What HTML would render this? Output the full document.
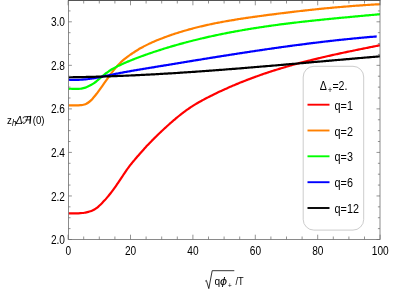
<!DOCTYPE html><html><head><meta charset="utf-8"><style>html,body{margin:0;padding:0;background:#fff}</style></head><body><svg width="395" height="291" viewBox="0 0 395 291" style="display:block;will-change:transform;font-family:'Liberation Sans',sans-serif">
<rect width="395" height="291" fill="#fff"/>
<clipPath id="c"><rect x="68.4" y="0.5" width="311.6" height="239.0"/></clipPath>
<g clip-path="url(#c)" fill="none" stroke-linejoin="round">
<path d="M68.40,213.33C68.73,213.34 69.73,213.35 70.40,213.36C71.07,213.37 71.73,213.38 72.40,213.38C73.07,213.39 73.73,213.40 74.40,213.40C75.07,213.40 75.73,213.40 76.40,213.38C77.07,213.37 77.73,213.35 78.40,213.33C79.07,213.30 79.73,213.26 80.40,213.21C81.07,213.16 81.73,213.10 82.40,213.03C83.07,212.95 83.73,212.86 84.40,212.76C85.07,212.65 85.73,212.53 86.40,212.38C87.07,212.24 87.73,212.08 88.40,211.90C89.07,211.71 89.73,211.51 90.40,211.28C91.07,211.05 91.73,210.80 92.40,210.50C93.07,210.20 93.73,209.87 94.40,209.48C95.07,209.10 95.73,208.67 96.40,208.18C97.07,207.70 97.73,207.15 98.40,206.58C99.07,206.00 99.73,205.37 100.40,204.73C101.07,204.09 101.73,203.41 102.40,202.72C103.07,202.03 103.73,201.33 104.40,200.60C105.07,199.87 105.73,199.13 106.40,198.37C107.07,197.61 107.73,196.82 108.40,196.02C109.07,195.22 109.73,194.40 110.40,193.55C111.07,192.71 111.73,191.84 112.40,190.95C113.07,190.06 113.73,189.15 114.40,188.21C115.07,187.28 115.73,186.32 116.40,185.35C117.07,184.38 117.73,183.38 118.40,182.39C119.07,181.39 119.73,180.38 120.40,179.37C121.07,178.36 121.73,177.35 122.40,176.34C123.07,175.34 123.73,174.33 124.40,173.35C125.07,172.36 125.73,171.37 126.40,170.41C127.07,169.46 127.73,168.51 128.40,167.59C129.07,166.68 129.93,165.54 130.40,164.92C130.87,164.31 131.07,164.07 131.20,163.90L131.20,163.95C131.53,163.54 132.53,162.31 133.20,161.50C133.87,160.69 134.53,159.89 135.20,159.10C135.87,158.31 136.53,157.52 137.20,156.75C137.87,155.97 138.53,155.20 139.20,154.44C139.87,153.67 140.53,152.92 141.20,152.17C141.87,151.42 142.53,150.68 143.20,149.94C143.87,149.21 144.53,148.48 145.20,147.76C145.87,147.04 146.53,146.32 147.20,145.61C147.87,144.90 148.53,144.20 149.20,143.50C149.87,142.81 150.53,142.12 151.20,141.43C151.87,140.75 152.53,140.07 153.20,139.40C153.87,138.73 154.53,138.06 155.20,137.40C155.87,136.74 156.53,136.08 157.20,135.43C157.87,134.78 158.53,134.13 159.20,133.49C159.87,132.85 160.53,132.22 161.20,131.59C161.87,130.96 162.53,130.33 163.20,129.71C163.87,129.09 164.53,128.48 165.20,127.86C165.87,127.25 166.53,126.65 167.20,126.04C167.87,125.44 168.53,124.84 169.20,124.25C169.87,123.65 170.53,123.07 171.20,122.48C171.87,121.90 172.53,121.32 173.20,120.74C173.87,120.17 174.53,119.60 175.20,119.04C175.87,118.47 176.53,117.92 177.20,117.37C177.87,116.82 178.53,116.27 179.20,115.74C179.87,115.20 180.53,114.67 181.20,114.15C181.87,113.63 182.53,113.11 183.20,112.60C183.87,112.10 184.53,111.60 185.20,111.11C185.87,110.62 186.53,110.14 187.20,109.66C187.87,109.19 188.53,108.73 189.20,108.27C189.87,107.82 190.53,107.37 191.20,106.94C191.87,106.50 192.53,106.08 193.20,105.66C193.87,105.24 194.53,104.83 195.20,104.42C195.87,104.02 196.53,103.62 197.20,103.23C197.87,102.84 198.53,102.46 199.20,102.08C199.87,101.70 200.53,101.33 201.20,100.97C201.87,100.60 202.53,100.24 203.20,99.88C203.87,99.52 204.53,99.17 205.20,98.82C205.87,98.47 206.53,98.12 207.20,97.78C207.87,97.44 208.53,97.09 209.20,96.76C209.87,96.42 210.53,96.08 211.20,95.75C211.87,95.41 212.53,95.08 213.20,94.75C213.87,94.43 214.53,94.10 215.20,93.78C215.87,93.45 216.53,93.13 217.20,92.81C217.87,92.49 218.53,92.17 219.20,91.86C219.87,91.54 220.53,91.23 221.20,90.92C221.87,90.61 222.53,90.30 223.20,90.00C223.87,89.69 224.53,89.39 225.20,89.09C225.87,88.78 226.53,88.48 227.20,88.19C227.87,87.89 228.53,87.59 229.20,87.30C229.87,87.01 230.53,86.72 231.20,86.43C231.87,86.14 232.53,85.85 233.20,85.57C233.87,85.29 234.53,85.00 235.20,84.72C235.87,84.44 236.53,84.16 237.20,83.89C237.87,83.61 238.53,83.34 239.20,83.07C239.87,82.79 240.53,82.52 241.20,82.25C241.87,81.99 242.53,81.72 243.20,81.46C243.87,81.19 244.53,80.93 245.20,80.67C245.87,80.41 246.53,80.15 247.20,79.89C247.87,79.64 248.53,79.38 249.20,79.13C249.87,78.87 250.53,78.62 251.20,78.37C251.87,78.12 252.53,77.88 253.20,77.63C253.87,77.38 254.53,77.14 255.20,76.90C255.87,76.66 256.53,76.42 257.20,76.18C257.87,75.94 258.53,75.70 259.20,75.47C259.87,75.23 260.53,75.00 261.20,74.77C261.87,74.53 262.53,74.30 263.20,74.07C263.87,73.85 264.53,73.62 265.20,73.39C265.87,73.17 266.53,72.95 267.20,72.72C267.87,72.50 268.53,72.28 269.20,72.06C269.87,71.84 270.53,71.63 271.20,71.41C271.87,71.19 272.53,70.98 273.20,70.77C273.87,70.55 274.53,70.34 275.20,70.13C275.87,69.92 276.53,69.71 277.20,69.51C277.87,69.30 278.53,69.10 279.20,68.89C279.87,68.69 280.53,68.49 281.20,68.28C281.87,68.08 282.53,67.88 283.20,67.68C283.87,67.49 284.53,67.29 285.20,67.09C285.87,66.90 286.53,66.70 287.20,66.51C287.87,66.32 288.53,66.13 289.20,65.94C289.87,65.74 290.53,65.56 291.20,65.37C291.87,65.18 292.53,64.99 293.20,64.81C293.87,64.62 294.53,64.44 295.20,64.26C295.87,64.07 296.53,63.89 297.20,63.71C297.87,63.53 298.53,63.35 299.20,63.17C299.87,62.99 300.53,62.82 301.20,62.64C301.87,62.46 302.53,62.29 303.20,62.11C303.87,61.94 304.53,61.77 305.20,61.60C305.87,61.42 306.53,61.25 307.20,61.08C307.87,60.91 308.53,60.75 309.20,60.58C309.87,60.41 310.53,60.24 311.20,60.08C311.87,59.91 312.53,59.75 313.20,59.58C313.87,59.42 314.53,59.26 315.20,59.10C315.87,58.93 316.53,58.77 317.20,58.61C317.87,58.45 318.53,58.29 319.20,58.13C319.87,57.98 320.53,57.82 321.20,57.66C321.87,57.51 322.53,57.35 323.20,57.19C323.87,57.04 324.53,56.88 325.20,56.73C325.87,56.58 326.53,56.43 327.20,56.27C327.87,56.12 328.53,55.97 329.20,55.82C329.87,55.67 330.53,55.52 331.20,55.37C331.87,55.22 332.53,55.07 333.20,54.92C333.87,54.78 334.53,54.63 335.20,54.48C335.87,54.34 336.53,54.19 337.20,54.05C337.87,53.90 338.53,53.76 339.20,53.61C339.87,53.47 340.53,53.32 341.20,53.18C341.87,53.04 342.53,52.90 343.20,52.75C343.87,52.61 344.53,52.47 345.20,52.33C345.87,52.19 346.53,52.05 347.20,51.91C347.87,51.77 348.53,51.63 349.20,51.49C349.87,51.35 350.53,51.21 351.20,51.07C351.87,50.94 352.53,50.80 353.20,50.66C353.87,50.52 354.53,50.39 355.20,50.25C355.87,50.11 356.53,49.98 357.20,49.84C357.87,49.70 358.53,49.57 359.20,49.43C359.87,49.30 360.53,49.16 361.20,49.03C361.87,48.89 362.53,48.76 363.20,48.62C363.87,48.49 364.53,48.35 365.20,48.22C365.87,48.09 366.53,47.95 367.20,47.82C367.87,47.68 368.53,47.55 369.20,47.42C369.87,47.28 370.53,47.15 371.20,47.02C371.87,46.89 372.53,46.75 373.20,46.62C373.87,46.49 374.53,46.35 375.20,46.22C375.87,46.09 376.53,45.96 377.20,45.82C377.87,45.69 378.67,45.53 379.20,45.43C379.73,45.32 380.20,45.23 380.40,45.19" stroke="#ff0000" stroke-width="2.2"/>
<path d="M68.40,105.38C68.73,105.38 69.73,105.36 70.40,105.36C71.07,105.35 71.73,105.36 72.40,105.37C73.07,105.37 73.73,105.38 74.40,105.39C75.07,105.39 75.73,105.40 76.40,105.39C77.07,105.38 77.73,105.37 78.40,105.34C79.07,105.31 79.73,105.27 80.40,105.21C81.07,105.15 81.73,105.08 82.40,104.96C83.07,104.83 83.73,104.69 84.40,104.48C85.07,104.27 85.73,104.02 86.40,103.69C87.07,103.37 87.73,102.98 88.40,102.51C89.07,102.05 89.73,101.51 90.40,100.90C91.07,100.30 91.73,99.61 92.40,98.89C93.07,98.16 93.73,97.38 94.40,96.57C95.07,95.76 95.73,94.91 96.40,94.04C97.07,93.18 97.73,92.29 98.40,91.39C99.07,90.49 99.73,89.57 100.40,88.64C101.07,87.71 101.73,86.77 102.40,85.83C103.07,84.89 103.73,83.93 104.40,82.99C105.07,82.04 105.73,81.08 106.40,80.14C107.07,79.20 107.73,78.25 108.40,77.32C109.07,76.40 109.73,75.47 110.40,74.57C111.07,73.67 111.73,72.77 112.40,71.91C113.07,71.04 113.73,70.19 114.40,69.37C115.07,68.54 115.73,67.74 116.40,66.98C117.07,66.22 117.73,65.48 118.40,64.78C119.07,64.07 119.73,63.40 120.40,62.76C121.07,62.11 121.73,61.49 122.40,60.90C123.07,60.30 123.73,59.73 124.40,59.18C125.07,58.62 125.73,58.09 126.40,57.57C127.07,57.05 127.73,56.56 128.40,56.07C129.07,55.58 129.73,55.10 130.40,54.63C131.07,54.17 131.73,53.71 132.40,53.26C133.07,52.82 133.73,52.38 134.40,51.95C135.07,51.52 135.73,51.10 136.40,50.69C137.07,50.28 137.73,49.87 138.40,49.48C139.07,49.08 139.73,48.70 140.40,48.32C141.07,47.94 141.73,47.57 142.40,47.21C143.07,46.85 143.73,46.49 144.40,46.14C145.07,45.79 145.73,45.45 146.40,45.12C147.07,44.78 147.73,44.45 148.40,44.13C149.07,43.81 149.73,43.50 150.40,43.19C151.07,42.88 151.73,42.57 152.40,42.27C153.07,41.97 153.73,41.68 154.40,41.39C155.07,41.11 155.73,40.82 156.40,40.55C157.07,40.27 157.73,39.99 158.40,39.72C159.07,39.45 159.73,39.19 160.40,38.93C161.07,38.67 161.73,38.41 162.40,38.16C163.07,37.90 163.73,37.65 164.40,37.40C165.07,37.16 165.73,36.91 166.40,36.67C167.07,36.43 167.73,36.19 168.40,35.95C169.07,35.72 169.73,35.49 170.40,35.25C171.07,35.02 171.73,34.80 172.40,34.57C173.07,34.35 173.73,34.12 174.40,33.90C175.07,33.68 175.73,33.47 176.40,33.25C177.07,33.04 177.73,32.83 178.40,32.62C179.07,32.41 179.73,32.20 180.40,31.99C181.07,31.79 181.73,31.59 182.40,31.39C183.07,31.19 183.73,30.99 184.40,30.80C185.07,30.60 185.73,30.41 186.40,30.22C187.07,30.03 187.73,29.84 188.40,29.65C189.07,29.47 189.73,29.29 190.40,29.10C191.07,28.92 191.73,28.74 192.40,28.57C193.07,28.39 193.73,28.22 194.40,28.04C195.07,27.87 195.73,27.70 196.40,27.53C197.07,27.36 197.73,27.20 198.40,27.03C199.07,26.87 199.73,26.71 200.40,26.55C201.07,26.39 201.73,26.23 202.40,26.07C203.07,25.91 203.73,25.76 204.40,25.61C205.07,25.45 205.73,25.30 206.40,25.15C207.07,25.00 207.73,24.86 208.40,24.71C209.07,24.57 209.73,24.42 210.40,24.28C211.07,24.14 211.73,24.00 212.40,23.86C213.07,23.72 213.73,23.58 214.40,23.45C215.07,23.31 215.73,23.18 216.40,23.04C217.07,22.91 217.73,22.78 218.40,22.65C219.07,22.52 219.73,22.39 220.40,22.27C221.07,22.14 221.73,22.02 222.40,21.89C223.07,21.77 223.73,21.65 224.40,21.53C225.07,21.40 225.73,21.29 226.40,21.17C227.07,21.05 227.73,20.93 228.40,20.82C229.07,20.70 229.73,20.59 230.40,20.47C231.07,20.36 231.73,20.25 232.40,20.14C233.07,20.02 233.73,19.91 234.40,19.81C235.07,19.70 235.73,19.59 236.40,19.48C237.07,19.38 237.73,19.27 238.40,19.16C239.07,19.06 239.73,18.96 240.40,18.85C241.07,18.75 241.73,18.65 242.40,18.55C243.07,18.45 243.73,18.35 244.40,18.25C245.07,18.15 245.73,18.05 246.40,17.95C247.07,17.85 247.73,17.76 248.40,17.66C249.07,17.56 249.73,17.47 250.40,17.37C251.07,17.28 251.73,17.18 252.40,17.09C253.07,17.00 253.73,16.90 254.40,16.81C255.07,16.72 255.73,16.63 256.40,16.54C257.07,16.45 257.73,16.35 258.40,16.26C259.07,16.17 259.73,16.08 260.40,15.99C261.07,15.90 261.73,15.82 262.40,15.73C263.07,15.64 263.73,15.55 264.40,15.46C265.07,15.37 265.73,15.29 266.40,15.20C267.07,15.11 267.73,15.02 268.40,14.94C269.07,14.85 269.73,14.76 270.40,14.68C271.07,14.59 271.73,14.51 272.40,14.42C273.07,14.33 273.73,14.25 274.40,14.16C275.07,14.08 275.73,13.99 276.40,13.91C277.07,13.82 277.73,13.74 278.40,13.66C279.07,13.57 279.73,13.49 280.40,13.41C281.07,13.32 281.73,13.24 282.40,13.16C283.07,13.08 283.73,12.99 284.40,12.91C285.07,12.83 285.73,12.75 286.40,12.67C287.07,12.59 287.73,12.51 288.40,12.42C289.07,12.34 289.73,12.26 290.40,12.18C291.07,12.10 291.73,12.03 292.40,11.95C293.07,11.87 293.73,11.79 294.40,11.71C295.07,11.63 295.73,11.55 296.40,11.48C297.07,11.40 297.73,11.32 298.40,11.25C299.07,11.17 299.73,11.09 300.40,11.02C301.07,10.94 301.73,10.87 302.40,10.79C303.07,10.72 303.73,10.64 304.40,10.57C305.07,10.49 305.73,10.42 306.40,10.34C307.07,10.27 307.73,10.20 308.40,10.13C309.07,10.05 309.73,9.98 310.40,9.91C311.07,9.84 311.73,9.77 312.40,9.69C313.07,9.62 313.73,9.55 314.40,9.48C315.07,9.41 315.73,9.34 316.40,9.27C317.07,9.20 317.73,9.14 318.40,9.07C319.07,9.00 319.73,8.93 320.40,8.86C321.07,8.80 321.73,8.73 322.40,8.66C323.07,8.60 323.73,8.53 324.40,8.47C325.07,8.40 325.73,8.33 326.40,8.27C327.07,8.21 327.73,8.14 328.40,8.08C329.07,8.01 329.73,7.95 330.40,7.89C331.07,7.83 331.73,7.76 332.40,7.70C333.07,7.64 333.73,7.58 334.40,7.52C335.07,7.46 335.73,7.40 336.40,7.34C337.07,7.28 337.73,7.22 338.40,7.16C339.07,7.10 339.73,7.04 340.40,6.98C341.07,6.93 341.73,6.87 342.40,6.81C343.07,6.76 343.73,6.70 344.40,6.64C345.07,6.59 345.73,6.53 346.40,6.48C347.07,6.42 347.73,6.37 348.40,6.32C349.07,6.26 349.73,6.21 350.40,6.16C351.07,6.11 351.73,6.05 352.40,6.00C353.07,5.95 353.73,5.90 354.40,5.85C355.07,5.80 355.73,5.75 356.40,5.70C357.07,5.65 357.73,5.61 358.40,5.56C359.07,5.51 359.73,5.46 360.40,5.42C361.07,5.37 361.73,5.32 362.40,5.28C363.07,5.23 363.73,5.19 364.40,5.14C365.07,5.10 365.73,5.05 366.40,5.01C367.07,4.97 367.73,4.93 368.40,4.88C369.07,4.84 369.73,4.80 370.40,4.76C371.07,4.72 371.73,4.68 372.40,4.64C373.07,4.60 373.73,4.56 374.40,4.52C375.07,4.48 375.73,4.45 376.40,4.41C377.07,4.37 377.73,4.34 378.40,4.30C379.07,4.26 380.07,4.21 380.40,4.19" stroke="#ff8000" stroke-width="2.2"/>
<path d="M68.40,88.83C68.73,88.82 69.73,88.78 70.40,88.77C71.07,88.77 71.73,88.79 72.40,88.81C73.07,88.82 73.73,88.85 74.40,88.87C75.07,88.89 75.73,88.91 76.40,88.92C77.07,88.92 77.73,88.91 78.40,88.88C79.07,88.85 79.73,88.80 80.40,88.72C81.07,88.63 81.73,88.52 82.40,88.38C83.07,88.24 83.73,88.07 84.40,87.87C85.07,87.67 85.73,87.44 86.40,87.18C87.07,86.93 87.73,86.64 88.40,86.33C89.07,86.02 89.73,85.68 90.40,85.31C91.07,84.94 91.73,84.55 92.40,84.13C93.07,83.70 93.73,83.25 94.40,82.78C95.07,82.30 95.73,81.79 96.40,81.27C97.07,80.74 97.73,80.18 98.40,79.62C99.07,79.06 99.73,78.47 100.40,77.90C101.07,77.33 101.73,76.74 102.40,76.18C103.07,75.62 103.73,75.06 104.40,74.52C105.07,73.99 105.73,73.48 106.40,72.99C107.07,72.50 107.73,72.03 108.40,71.57C109.07,71.12 109.73,70.68 110.40,70.26C111.07,69.84 111.73,69.44 112.40,69.05C113.07,68.66 113.73,68.28 114.40,67.92C115.07,67.55 115.73,67.20 116.40,66.85C117.07,66.51 117.73,66.17 118.40,65.84C119.07,65.51 119.73,65.19 120.40,64.88C121.07,64.57 121.73,64.26 122.40,63.96C123.07,63.66 123.73,63.37 124.40,63.08C125.07,62.79 125.73,62.50 126.40,62.22C127.07,61.94 127.73,61.66 128.40,61.39C129.07,61.11 129.73,60.84 130.40,60.57C131.07,60.30 131.73,60.04 132.40,59.77C133.07,59.51 133.73,59.25 134.40,58.99C135.07,58.73 135.73,58.47 136.40,58.21C137.07,57.96 137.73,57.70 138.40,57.45C139.07,57.20 139.73,56.95 140.40,56.70C141.07,56.45 141.73,56.21 142.40,55.96C143.07,55.72 143.73,55.48 144.40,55.24C145.07,55.00 145.73,54.76 146.40,54.52C147.07,54.29 147.73,54.05 148.40,53.82C149.07,53.59 149.73,53.36 150.40,53.13C151.07,52.90 151.73,52.67 152.40,52.45C153.07,52.22 153.73,52.00 154.40,51.78C155.07,51.56 155.73,51.34 156.40,51.12C157.07,50.90 157.73,50.68 158.40,50.47C159.07,50.25 159.73,50.04 160.40,49.83C161.07,49.61 161.73,49.40 162.40,49.20C163.07,48.99 163.73,48.78 164.40,48.57C165.07,48.37 165.73,48.16 166.40,47.96C167.07,47.76 167.73,47.55 168.40,47.35C169.07,47.15 169.73,46.95 170.40,46.76C171.07,46.56 171.73,46.36 172.40,46.17C173.07,45.97 173.73,45.78 174.40,45.59C175.07,45.40 175.73,45.20 176.40,45.02C177.07,44.83 177.73,44.64 178.40,44.45C179.07,44.27 179.73,44.08 180.40,43.90C181.07,43.71 181.73,43.53 182.40,43.35C183.07,43.17 183.73,42.99 184.40,42.81C185.07,42.63 185.73,42.45 186.40,42.28C187.07,42.10 187.73,41.92 188.40,41.75C189.07,41.58 189.73,41.41 190.40,41.23C191.07,41.06 191.73,40.89 192.40,40.72C193.07,40.56 193.73,40.39 194.40,40.22C195.07,40.06 195.73,39.89 196.40,39.73C197.07,39.56 197.73,39.40 198.40,39.24C199.07,39.08 199.73,38.92 200.40,38.76C201.07,38.60 201.73,38.44 202.40,38.29C203.07,38.13 203.73,37.98 204.40,37.82C205.07,37.67 205.73,37.51 206.40,37.36C207.07,37.21 207.73,37.06 208.40,36.91C209.07,36.76 209.73,36.61 210.40,36.46C211.07,36.32 211.73,36.17 212.40,36.03C213.07,35.88 213.73,35.74 214.40,35.59C215.07,35.45 215.73,35.31 216.40,35.17C217.07,35.03 217.73,34.89 218.40,34.75C219.07,34.61 219.73,34.47 220.40,34.33C221.07,34.20 221.73,34.06 222.40,33.93C223.07,33.79 223.73,33.66 224.40,33.53C225.07,33.39 225.73,33.26 226.40,33.13C227.07,33.00 227.73,32.87 228.40,32.74C229.07,32.62 229.73,32.49 230.40,32.36C231.07,32.23 231.73,32.11 232.40,31.98C233.07,31.86 233.73,31.74 234.40,31.61C235.07,31.49 235.73,31.37 236.40,31.25C237.07,31.13 237.73,31.01 238.40,30.89C239.07,30.77 239.73,30.65 240.40,30.53C241.07,30.42 241.73,30.30 242.40,30.18C243.07,30.07 243.73,29.95 244.40,29.84C245.07,29.73 245.73,29.61 246.40,29.50C247.07,29.39 247.73,29.28 248.40,29.17C249.07,29.06 249.73,28.95 250.40,28.84C251.07,28.73 251.73,28.62 252.40,28.51C253.07,28.41 253.73,28.30 254.40,28.20C255.07,28.09 255.73,27.99 256.40,27.88C257.07,27.78 257.73,27.68 258.40,27.57C259.07,27.47 259.73,27.37 260.40,27.27C261.07,27.17 261.73,27.07 262.40,26.97C263.07,26.87 263.73,26.77 264.40,26.67C265.07,26.57 265.73,26.48 266.40,26.38C267.07,26.28 267.73,26.19 268.40,26.09C269.07,26.00 269.73,25.90 270.40,25.81C271.07,25.72 271.73,25.62 272.40,25.53C273.07,25.44 273.73,25.35 274.40,25.26C275.07,25.17 275.73,25.08 276.40,24.99C277.07,24.90 277.73,24.81 278.40,24.72C279.07,24.63 279.73,24.54 280.40,24.46C281.07,24.37 281.73,24.28 282.40,24.20C283.07,24.11 283.73,24.03 284.40,23.94C285.07,23.86 285.73,23.77 286.40,23.69C287.07,23.60 287.73,23.52 288.40,23.44C289.07,23.36 289.73,23.27 290.40,23.19C291.07,23.11 291.73,23.03 292.40,22.95C293.07,22.87 293.73,22.79 294.40,22.71C295.07,22.63 295.73,22.55 296.40,22.47C297.07,22.40 297.73,22.32 298.40,22.24C299.07,22.16 299.73,22.09 300.40,22.01C301.07,21.93 301.73,21.86 302.40,21.78C303.07,21.71 303.73,21.63 304.40,21.56C305.07,21.48 305.73,21.41 306.40,21.34C307.07,21.26 307.73,21.19 308.40,21.12C309.07,21.04 309.73,20.97 310.40,20.90C311.07,20.83 311.73,20.75 312.40,20.68C313.07,20.61 313.73,20.54 314.40,20.47C315.07,20.40 315.73,20.33 316.40,20.26C317.07,20.19 317.73,20.12 318.40,20.05C319.07,19.98 319.73,19.91 320.40,19.85C321.07,19.78 321.73,19.71 322.40,19.64C323.07,19.57 323.73,19.51 324.40,19.44C325.07,19.37 325.73,19.30 326.40,19.24C327.07,19.17 327.73,19.11 328.40,19.04C329.07,18.97 329.73,18.91 330.40,18.84C331.07,18.78 331.73,18.71 332.40,18.65C333.07,18.58 333.73,18.52 334.40,18.45C335.07,18.39 335.73,18.32 336.40,18.26C337.07,18.19 337.73,18.13 338.40,18.07C339.07,18.00 339.73,17.94 340.40,17.88C341.07,17.81 341.73,17.75 342.40,17.69C343.07,17.62 343.73,17.56 344.40,17.50C345.07,17.43 345.73,17.37 346.40,17.31C347.07,17.25 347.73,17.19 348.40,17.12C349.07,17.06 349.73,17.00 350.40,16.94C351.07,16.87 351.73,16.81 352.40,16.75C353.07,16.69 353.73,16.63 354.40,16.57C355.07,16.50 355.73,16.44 356.40,16.38C357.07,16.32 357.73,16.26 358.40,16.20C359.07,16.14 359.73,16.08 360.40,16.01C361.07,15.95 361.73,15.89 362.40,15.83C363.07,15.77 363.73,15.71 364.40,15.65C365.07,15.59 365.73,15.53 366.40,15.46C367.07,15.40 367.73,15.34 368.40,15.28C369.07,15.22 369.73,15.16 370.40,15.10C371.07,15.04 371.73,14.98 372.40,14.91C373.07,14.85 373.73,14.79 374.40,14.73C375.07,14.67 375.73,14.61 376.40,14.55C377.07,14.48 377.73,14.42 378.40,14.36C379.07,14.30 380.07,14.21 380.40,14.18" stroke="#00ff00" stroke-width="2.2"/>
<path d="M68.40,79.71C68.73,79.73 69.73,79.79 70.40,79.82C71.07,79.85 71.73,79.87 72.40,79.88C73.07,79.90 73.73,79.91 74.40,79.91C75.07,79.91 75.73,79.91 76.40,79.90C77.07,79.88 77.73,79.87 78.40,79.84C79.07,79.82 79.73,79.79 80.40,79.76C81.07,79.72 81.73,79.68 82.40,79.63C83.07,79.58 83.73,79.53 84.40,79.47C85.07,79.41 85.73,79.34 86.40,79.27C87.07,79.20 87.73,79.12 88.40,79.03C89.07,78.95 89.73,78.86 90.40,78.76C91.07,78.67 91.73,78.57 92.40,78.46C93.07,78.35 93.73,78.24 94.40,78.12C95.07,78.01 95.73,77.89 96.40,77.77C97.07,77.64 97.73,77.51 98.40,77.38C99.07,77.25 99.73,77.12 100.40,76.99C101.07,76.85 101.73,76.72 102.40,76.58C103.07,76.44 103.73,76.30 104.40,76.16C105.07,76.02 105.73,75.88 106.40,75.74C107.07,75.60 107.73,75.45 108.40,75.31C109.07,75.17 109.73,75.03 110.40,74.90C111.07,74.76 111.73,74.62 112.40,74.49C113.07,74.35 113.73,74.22 114.40,74.09C115.07,73.95 115.73,73.82 116.40,73.69C117.07,73.56 117.73,73.43 118.40,73.31C119.07,73.18 119.73,73.05 120.40,72.93C121.07,72.80 121.73,72.68 122.40,72.56C123.07,72.44 123.73,72.31 124.40,72.19C125.07,72.07 125.73,71.95 126.40,71.83C127.07,71.71 127.73,71.60 128.40,71.48C129.07,71.36 129.73,71.25 130.40,71.13C131.07,71.01 131.73,70.90 132.40,70.78C133.07,70.67 133.73,70.56 134.40,70.44C135.07,70.33 135.73,70.22 136.40,70.10C137.07,69.99 137.73,69.88 138.40,69.77C139.07,69.66 139.73,69.54 140.40,69.43C141.07,69.32 141.73,69.21 142.40,69.10C143.07,68.99 143.73,68.88 144.40,68.77C145.07,68.66 145.73,68.55 146.40,68.44C147.07,68.33 147.73,68.22 148.40,68.11C149.07,68.00 149.73,67.89 150.40,67.78C151.07,67.67 151.73,67.56 152.40,67.45C153.07,67.34 153.73,67.23 154.40,67.11C155.07,67.00 155.73,66.89 156.40,66.78C157.07,66.67 157.73,66.56 158.40,66.45C159.07,66.34 159.73,66.23 160.40,66.12C161.07,66.01 161.73,65.90 162.40,65.79C163.07,65.68 163.73,65.57 164.40,65.46C165.07,65.35 165.73,65.24 166.40,65.13C167.07,65.02 167.73,64.91 168.40,64.80C169.07,64.69 169.73,64.58 170.40,64.47C171.07,64.36 171.73,64.25 172.40,64.14C173.07,64.03 173.73,63.92 174.40,63.81C175.07,63.70 175.73,63.59 176.40,63.48C177.07,63.37 177.73,63.26 178.40,63.15C179.07,63.04 179.73,62.93 180.40,62.82C181.07,62.71 181.73,62.61 182.40,62.50C183.07,62.39 183.73,62.28 184.40,62.17C185.07,62.06 185.73,61.95 186.40,61.84C187.07,61.73 187.73,61.62 188.40,61.51C189.07,61.40 189.73,61.29 190.40,61.18C191.07,61.08 191.73,60.97 192.40,60.86C193.07,60.75 193.73,60.64 194.40,60.53C195.07,60.42 195.73,60.31 196.40,60.20C197.07,60.10 197.73,59.99 198.40,59.88C199.07,59.77 199.73,59.66 200.40,59.55C201.07,59.45 201.73,59.34 202.40,59.23C203.07,59.12 203.73,59.01 204.40,58.91C205.07,58.80 205.73,58.69 206.40,58.58C207.07,58.47 207.73,58.37 208.40,58.26C209.07,58.15 209.73,58.04 210.40,57.94C211.07,57.83 211.73,57.72 212.40,57.62C213.07,57.51 213.73,57.40 214.40,57.29C215.07,57.19 215.73,57.08 216.40,56.98C217.07,56.87 217.73,56.76 218.40,56.66C219.07,56.55 219.73,56.44 220.40,56.34C221.07,56.23 221.73,56.13 222.40,56.02C223.07,55.91 223.73,55.81 224.40,55.70C225.07,55.60 225.73,55.49 226.40,55.39C227.07,55.28 227.73,55.18 228.40,55.07C229.07,54.97 229.73,54.86 230.40,54.76C231.07,54.65 231.73,54.55 232.40,54.45C233.07,54.34 233.73,54.24 234.40,54.13C235.07,54.03 235.73,53.93 236.40,53.82C237.07,53.72 237.73,53.62 238.40,53.51C239.07,53.41 239.73,53.31 240.40,53.21C241.07,53.10 241.73,53.00 242.40,52.90C243.07,52.80 243.73,52.69 244.40,52.59C245.07,52.49 245.73,52.39 246.40,52.29C247.07,52.19 247.73,52.08 248.40,51.98C249.07,51.88 249.73,51.78 250.40,51.68C251.07,51.58 251.73,51.48 252.40,51.38C253.07,51.28 253.73,51.18 254.40,51.08C255.07,50.98 255.73,50.88 256.40,50.78C257.07,50.68 257.73,50.58 258.40,50.48C259.07,50.38 259.73,50.29 260.40,50.19C261.07,50.09 261.73,49.99 262.40,49.89C263.07,49.79 263.73,49.70 264.40,49.60C265.07,49.50 265.73,49.41 266.40,49.31C267.07,49.21 267.73,49.11 268.40,49.02C269.07,48.92 269.73,48.83 270.40,48.73C271.07,48.63 271.73,48.54 272.40,48.44C273.07,48.35 273.73,48.25 274.40,48.16C275.07,48.06 275.73,47.97 276.40,47.87C277.07,47.78 277.73,47.69 278.40,47.59C279.07,47.50 279.73,47.41 280.40,47.31C281.07,47.22 281.73,47.13 282.40,47.03C283.07,46.94 283.73,46.85 284.40,46.76C285.07,46.67 285.73,46.57 286.40,46.48C287.07,46.39 287.73,46.30 288.40,46.21C289.07,46.12 289.73,46.03 290.40,45.94C291.07,45.85 291.73,45.76 292.40,45.67C293.07,45.58 293.73,45.49 294.40,45.40C295.07,45.31 295.73,45.23 296.40,45.14C297.07,45.05 297.73,44.96 298.40,44.87C299.07,44.79 299.73,44.70 300.40,44.61C301.07,44.53 301.73,44.44 302.40,44.35C303.07,44.27 303.73,44.18 304.40,44.10C305.07,44.01 305.73,43.92 306.40,43.84C307.07,43.76 307.73,43.67 308.40,43.59C309.07,43.50 309.73,43.42 310.40,43.34C311.07,43.25 311.73,43.17 312.40,43.09C313.07,43.00 313.73,42.92 314.40,42.84C315.07,42.76 315.73,42.68 316.40,42.60C317.07,42.52 317.73,42.43 318.40,42.35C319.07,42.27 319.73,42.19 320.40,42.11C321.07,42.04 321.73,41.96 322.40,41.88C323.07,41.80 323.73,41.72 324.40,41.64C325.07,41.56 325.73,41.49 326.40,41.41C327.07,41.33 327.73,41.26 328.40,41.18C329.07,41.10 329.73,41.03 330.40,40.95C331.07,40.88 331.73,40.80 332.40,40.73C333.07,40.65 333.73,40.58 334.40,40.50C335.07,40.43 335.73,40.36 336.40,40.28C337.07,40.21 337.73,40.14 338.40,40.07C339.07,39.99 339.73,39.92 340.40,39.85C341.07,39.78 341.73,39.71 342.40,39.64C343.07,39.57 343.73,39.50 344.40,39.43C345.07,39.36 345.73,39.29 346.40,39.22C347.07,39.15 347.73,39.09 348.40,39.02C349.07,38.95 349.73,38.88 350.40,38.82C351.07,38.75 351.73,38.68 352.40,38.62C353.07,38.55 353.73,38.49 354.40,38.42C355.07,38.36 355.73,38.29 356.40,38.23C357.07,38.16 357.73,38.10 358.40,38.04C359.07,37.97 359.73,37.91 360.40,37.85C361.07,37.79 361.73,37.73 362.40,37.67C363.07,37.60 363.73,37.54 364.40,37.48C365.07,37.42 365.73,37.36 366.40,37.31C367.07,37.25 367.73,37.19 368.40,37.13C369.07,37.07 369.73,37.01 370.40,36.96C371.07,36.90 371.73,36.84 372.40,36.79C373.07,36.73 373.68,36.68 374.40,36.62C375.12,36.56 376.32,36.47 376.70,36.43" stroke="#0000ff" stroke-width="2.2"/>
<path d="M68.40,77.28C68.73,77.27 69.73,77.26 70.40,77.25C71.07,77.25 71.73,77.24 72.40,77.23C73.07,77.22 73.73,77.21 74.40,77.20C75.07,77.19 75.73,77.18 76.40,77.17C77.07,77.15 77.73,77.14 78.40,77.13C79.07,77.12 79.73,77.11 80.40,77.10C81.07,77.08 81.73,77.07 82.40,77.06C83.07,77.04 83.73,77.03 84.40,77.02C85.07,77.00 85.73,76.99 86.40,76.97C87.07,76.96 87.73,76.94 88.40,76.93C89.07,76.91 89.73,76.90 90.40,76.88C91.07,76.86 91.73,76.85 92.40,76.83C93.07,76.81 93.73,76.79 94.40,76.78C95.07,76.76 95.73,76.74 96.40,76.72C97.07,76.70 97.73,76.68 98.40,76.67C99.07,76.65 99.73,76.63 100.40,76.61C101.07,76.59 101.73,76.57 102.40,76.55C103.07,76.53 103.73,76.50 104.40,76.48C105.07,76.46 105.73,76.44 106.40,76.42C107.07,76.40 107.73,76.37 108.40,76.35C109.07,76.33 109.73,76.30 110.40,76.28C111.07,76.26 111.73,76.23 112.40,76.21C113.07,76.19 113.73,76.16 114.40,76.14C115.07,76.11 115.73,76.09 116.40,76.06C117.07,76.04 117.73,76.01 118.40,75.98C119.07,75.96 119.73,75.93 120.40,75.91C121.07,75.88 121.73,75.85 122.40,75.82C123.07,75.80 123.73,75.77 124.40,75.74C125.07,75.71 125.73,75.68 126.40,75.66C127.07,75.63 127.73,75.60 128.40,75.57C129.07,75.54 129.73,75.51 130.40,75.48C131.07,75.45 131.73,75.42 132.40,75.39C133.07,75.36 133.73,75.33 134.40,75.30C135.07,75.27 135.73,75.24 136.40,75.20C137.07,75.17 137.73,75.14 138.40,75.11C139.07,75.08 139.73,75.04 140.40,75.01C141.07,74.98 141.73,74.94 142.40,74.91C143.07,74.88 143.73,74.84 144.40,74.81C145.07,74.78 145.73,74.74 146.40,74.71C147.07,74.67 147.73,74.64 148.40,74.60C149.07,74.57 149.73,74.53 150.40,74.50C151.07,74.46 151.73,74.43 152.40,74.39C153.07,74.35 153.73,74.32 154.40,74.28C155.07,74.24 155.73,74.21 156.40,74.17C157.07,74.13 157.73,74.09 158.40,74.06C159.07,74.02 159.73,73.98 160.40,73.94C161.07,73.90 161.73,73.87 162.40,73.83C163.07,73.79 163.73,73.75 164.40,73.71C165.07,73.67 165.73,73.63 166.40,73.59C167.07,73.55 167.73,73.51 168.40,73.47C169.07,73.43 169.73,73.39 170.40,73.35C171.07,73.31 171.73,73.27 172.40,73.23C173.07,73.18 173.73,73.14 174.40,73.10C175.07,73.06 175.73,73.02 176.40,72.98C177.07,72.93 177.73,72.89 178.40,72.85C179.07,72.81 179.73,72.76 180.40,72.72C181.07,72.68 181.73,72.63 182.40,72.59C183.07,72.55 183.73,72.50 184.40,72.46C185.07,72.41 185.73,72.37 186.40,72.33C187.07,72.28 187.73,72.24 188.40,72.19C189.07,72.15 189.73,72.10 190.40,72.06C191.07,72.01 191.73,71.97 192.40,71.92C193.07,71.87 193.73,71.83 194.40,71.78C195.07,71.74 195.73,71.69 196.40,71.64C197.07,71.60 197.73,71.55 198.40,71.50C199.07,71.46 199.73,71.41 200.40,71.36C201.07,71.32 201.73,71.27 202.40,71.22C203.07,71.17 203.73,71.13 204.40,71.08C205.07,71.03 205.73,70.98 206.40,70.93C207.07,70.88 207.73,70.84 208.40,70.79C209.07,70.74 209.73,70.69 210.40,70.64C211.07,70.59 211.73,70.54 212.40,70.49C213.07,70.44 213.73,70.39 214.40,70.34C215.07,70.29 215.73,70.24 216.40,70.19C217.07,70.14 217.73,70.09 218.40,70.04C219.07,69.99 219.73,69.94 220.40,69.89C221.07,69.84 221.73,69.79 222.40,69.74C223.07,69.69 223.73,69.64 224.40,69.58C225.07,69.53 225.73,69.48 226.40,69.43C227.07,69.38 227.73,69.33 228.40,69.27C229.07,69.22 229.73,69.17 230.40,69.12C231.07,69.07 231.73,69.01 232.40,68.96C233.07,68.91 233.73,68.86 234.40,68.80C235.07,68.75 235.73,68.70 236.40,68.64C237.07,68.59 237.73,68.54 238.40,68.48C239.07,68.43 239.73,68.38 240.40,68.32C241.07,68.27 241.73,68.22 242.40,68.16C243.07,68.11 243.73,68.05 244.40,68.00C245.07,67.95 245.73,67.89 246.40,67.84C247.07,67.78 247.73,67.73 248.40,67.67C249.07,67.62 249.73,67.57 250.40,67.51C251.07,67.46 251.73,67.40 252.40,67.35C253.07,67.29 253.73,67.24 254.40,67.18C255.07,67.13 255.73,67.07 256.40,67.01C257.07,66.96 257.73,66.90 258.40,66.85C259.07,66.79 259.73,66.74 260.40,66.68C261.07,66.63 261.73,66.57 262.40,66.51C263.07,66.46 263.73,66.40 264.40,66.35C265.07,66.29 265.73,66.23 266.40,66.18C267.07,66.12 267.73,66.06 268.40,66.01C269.07,65.95 269.73,65.89 270.40,65.84C271.07,65.78 271.73,65.72 272.40,65.67C273.07,65.61 273.73,65.55 274.40,65.50C275.07,65.44 275.73,65.38 276.40,65.33C277.07,65.27 277.73,65.21 278.40,65.15C279.07,65.10 279.73,65.04 280.40,64.98C281.07,64.92 281.73,64.87 282.40,64.81C283.07,64.75 283.73,64.69 284.40,64.64C285.07,64.58 285.73,64.52 286.40,64.46C287.07,64.41 287.73,64.35 288.40,64.29C289.07,64.23 289.73,64.18 290.40,64.12C291.07,64.06 291.73,64.00 292.40,63.94C293.07,63.89 293.73,63.83 294.40,63.77C295.07,63.71 295.73,63.65 296.40,63.60C297.07,63.54 297.73,63.48 298.40,63.42C299.07,63.36 299.73,63.30 300.40,63.25C301.07,63.19 301.73,63.13 302.40,63.07C303.07,63.01 303.73,62.95 304.40,62.90C305.07,62.84 305.73,62.78 306.40,62.72C307.07,62.66 307.73,62.60 308.40,62.55C309.07,62.49 309.73,62.43 310.40,62.37C311.07,62.31 311.73,62.25 312.40,62.20C313.07,62.14 313.73,62.08 314.40,62.02C315.07,61.96 315.73,61.90 316.40,61.84C317.07,61.79 317.73,61.73 318.40,61.67C319.07,61.61 319.73,61.55 320.40,61.49C321.07,61.44 321.73,61.38 322.40,61.32C323.07,61.26 323.73,61.20 324.40,61.14C325.07,61.08 325.73,61.03 326.40,60.97C327.07,60.91 327.73,60.85 328.40,60.79C329.07,60.73 329.73,60.68 330.40,60.62C331.07,60.56 331.73,60.50 332.40,60.44C333.07,60.38 333.73,60.33 334.40,60.27C335.07,60.21 335.73,60.15 336.40,60.09C337.07,60.03 337.73,59.98 338.40,59.92C339.07,59.86 339.73,59.80 340.40,59.74C341.07,59.69 341.73,59.63 342.40,59.57C343.07,59.51 343.73,59.45 344.40,59.40C345.07,59.34 345.73,59.28 346.40,59.22C347.07,59.16 347.73,59.11 348.40,59.05C349.07,58.99 349.73,58.93 350.40,58.88C351.07,58.82 351.73,58.76 352.40,58.70C353.07,58.65 353.73,58.59 354.40,58.53C355.07,58.47 355.73,58.42 356.40,58.36C357.07,58.30 357.73,58.24 358.40,58.19C359.07,58.13 359.73,58.07 360.40,58.02C361.07,57.96 361.73,57.90 362.40,57.85C363.07,57.79 363.73,57.73 364.40,57.67C365.07,57.62 365.73,57.56 366.40,57.50C367.07,57.45 367.73,57.39 368.40,57.34C369.07,57.28 369.73,57.22 370.40,57.17C371.07,57.11 371.73,57.05 372.40,57.00C373.07,56.94 373.73,56.89 374.40,56.83C375.07,56.77 375.73,56.72 376.40,56.66C377.07,56.61 377.73,56.55 378.40,56.50C379.07,56.44 380.07,56.36 380.40,56.33" stroke="#000000" stroke-width="2.2"/>
</g>
<path d="M68.10,239.5v-4.8M68.10,0.5v4.8M83.70,239.5v-3.0M83.70,0.5v3.0M99.30,239.5v-3.0M99.30,0.5v3.0M114.90,239.5v-3.0M114.90,0.5v3.0M130.50,239.5v-4.8M130.50,0.5v4.8M146.10,239.5v-3.0M146.10,0.5v3.0M161.70,239.5v-3.0M161.70,0.5v3.0M177.30,239.5v-3.0M177.30,0.5v3.0M192.90,239.5v-4.8M192.90,0.5v4.8M208.50,239.5v-3.0M208.50,0.5v3.0M224.10,239.5v-3.0M224.10,0.5v3.0M239.70,239.5v-3.0M239.70,0.5v3.0M255.30,239.5v-4.8M255.30,0.5v4.8M270.90,239.5v-3.0M270.90,0.5v3.0M286.50,239.5v-3.0M286.50,0.5v3.0M302.10,239.5v-3.0M302.10,0.5v3.0M317.70,239.5v-4.8M317.70,0.5v4.8M333.30,239.5v-3.0M333.30,0.5v3.0M348.90,239.5v-3.0M348.90,0.5v3.0M364.50,239.5v-3.0M364.50,0.5v3.0M380.10,239.5v-4.8M380.10,0.5v4.8M68.4,239.50h3.5M380.0,239.50h-3.5M68.4,228.62h2.1M380.0,228.62h-2.1M68.4,217.73h2.1M380.0,217.73h-2.1M68.4,206.85h2.1M380.0,206.85h-2.1M68.4,195.96h3.5M380.0,195.96h-3.5M68.4,185.07h2.1M380.0,185.07h-2.1M68.4,174.19h2.1M380.0,174.19h-2.1M68.4,163.30h2.1M380.0,163.30h-2.1M68.4,152.42h3.5M380.0,152.42h-3.5M68.4,141.53h2.1M380.0,141.53h-2.1M68.4,130.65h2.1M380.0,130.65h-2.1M68.4,119.77h2.1M380.0,119.77h-2.1M68.4,108.88h3.5M380.0,108.88h-3.5M68.4,98.00h2.1M380.0,98.00h-2.1M68.4,87.11h2.1M380.0,87.11h-2.1M68.4,76.23h2.1M380.0,76.23h-2.1M68.4,65.34h3.5M380.0,65.34h-3.5M68.4,54.45h2.1M380.0,54.45h-2.1M68.4,43.57h2.1M380.0,43.57h-2.1M68.4,32.68h2.1M380.0,32.68h-2.1M68.4,21.80h3.5M380.0,21.80h-3.5M68.4,10.92h2.1M380.0,10.92h-2.1" stroke="#777777" stroke-width="0.8" fill="none"/>
<rect x="68.4" y="0.5" width="311.6" height="239.0" fill="none" stroke="#6e6e6e" stroke-width="0.8"/>
<path d="M68.0,0.5H380.4" stroke="#555" stroke-width="1" fill="none"/>
<rect x="303.2" y="66.3" width="60.5" height="163.8" rx="10.7" ry="10.7" fill="#fff" stroke="#bfbfbf" stroke-width="0.8"/>
<line x1="307.5" x2="329.5" y1="104.7" y2="104.7" stroke="#ff0000" stroke-width="1.9"/>
<text transform="translate(334.60,109.80) scale(0.865,1)" font-size="12.5" text-anchor="start" >q=1</text>
<line x1="307.5" x2="329.5" y1="130.5" y2="130.5" stroke="#ff8000" stroke-width="1.9"/>
<text transform="translate(334.60,135.60) scale(0.865,1)" font-size="12.5" text-anchor="start" >q=2</text>
<line x1="307.5" x2="329.5" y1="156.3" y2="156.3" stroke="#00ff00" stroke-width="1.9"/>
<text transform="translate(334.60,161.40) scale(0.865,1)" font-size="12.5" text-anchor="start" >q=3</text>
<line x1="307.5" x2="329.5" y1="182.2" y2="182.2" stroke="#0000ff" stroke-width="1.9"/>
<text transform="translate(334.60,187.30) scale(0.865,1)" font-size="12.5" text-anchor="start" >q=6</text>
<line x1="307.5" x2="329.5" y1="208.0" y2="208.0" stroke="#000000" stroke-width="1.9"/>
<text transform="translate(334.60,213.10) scale(0.865,1)" font-size="12.5" text-anchor="start" >q=12</text>
<text transform="translate(319.80,89.60) scale(0.83,1)" font-size="12.8" text-anchor="start" >Δ</text>
<text transform="translate(327.70,92.90) scale(0.82,1)" font-size="9.5" text-anchor="start" >+</text>
<text transform="translate(332.40,89.60) scale(0.83,1)" font-size="12.8" text-anchor="start" >=2.</text>
<text transform="translate(65.00,244.10) scale(0.78,1)" font-size="13" text-anchor="end" >2.0</text>
<text transform="translate(65.00,200.56) scale(0.78,1)" font-size="13" text-anchor="end" >2.2</text>
<text transform="translate(65.00,157.02) scale(0.78,1)" font-size="13" text-anchor="end" >2.4</text>
<text transform="translate(65.00,113.48) scale(0.78,1)" font-size="13" text-anchor="end" >2.6</text>
<text transform="translate(65.00,69.94) scale(0.78,1)" font-size="13" text-anchor="end" >2.8</text>
<text transform="translate(65.00,26.40) scale(0.78,1)" font-size="13" text-anchor="end" >3.0</text>
<text transform="translate(68.20,255.20) scale(0.78,1)" font-size="13" text-anchor="middle" >0</text>
<text transform="translate(130.60,255.20) scale(0.78,1)" font-size="13" text-anchor="middle" >20</text>
<text transform="translate(193.00,255.20) scale(0.78,1)" font-size="13" text-anchor="middle" >40</text>
<text transform="translate(255.40,255.20) scale(0.78,1)" font-size="13" text-anchor="middle" >60</text>
<text transform="translate(317.80,255.20) scale(0.78,1)" font-size="13" text-anchor="middle" >80</text>
<text transform="translate(380.20,255.20) scale(0.78,1)" font-size="13" text-anchor="middle" >100</text>
<text transform="translate(6.90,123.50) scale(0.93,1)" font-size="10.4" text-anchor="start" >z</text>
<text transform="translate(12.00,126.00) scale(0.95,1)" font-size="8.3" text-anchor="start" font-style="italic">h</text>
<text transform="translate(15.80,123.50) scale(1.0,1)" font-size="10.4" text-anchor="start" font-style="italic">Δ</text>
<g fill="none" stroke="#000" stroke-linecap="round" stroke-linejoin="round"><path d="M30.6,116.5 L30.0,123.3" stroke-width="1.3"/><path d="M23.2,118.0 C23.2,117.0 23.8,116.8 25,116.8 L30.6,116.5" stroke-width="0.9"/><path d="M27.7,116.8 C27.3,119 26.3,121.6 25.0,122.8 C24.1,123.6 22.9,123.5 22.65,122.8 C22.5,122.4 22.6,122.1 22.8,121.9" stroke-width="0.9"/><path d="M25.7,120.0 L29.8,119.85" stroke-width="0.8"/></g>
<text transform="translate(32.70,123.50) scale(0.93,1)" font-size="10.4" text-anchor="start" >(0)</text>
<path d="M205.2,281.2 L206.4,280.4 L208.8,288.6 L212.2,270.7 L234.3,270.7" fill="none" stroke="#000" stroke-width="0.8"/>
<text transform="translate(214.40,284.60) scale(0.88,1)" font-size="11.5" text-anchor="start" >q</text>
<text transform="translate(220.00,284.60) scale(1.1,1)" font-size="11.5" text-anchor="start" font-style="italic">ϕ</text>
<text transform="translate(227.90,288.30) scale(0.8,1)" font-size="8" text-anchor="start" >+</text>
<text transform="translate(235.40,284.60) scale(0.8,1)" font-size="11.5" text-anchor="start" >/T</text>
</svg></body></html>
